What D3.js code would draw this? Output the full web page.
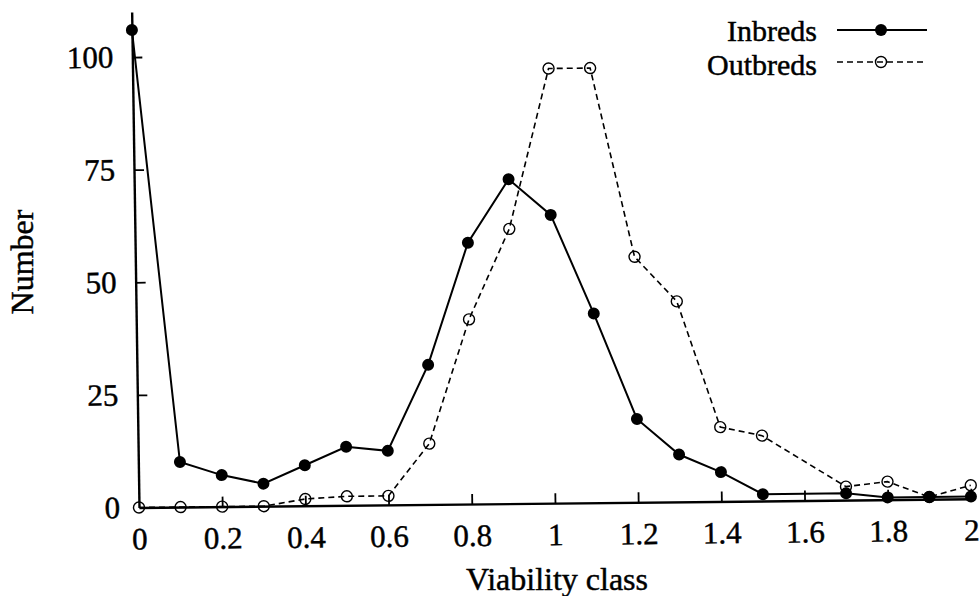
<!DOCTYPE html>
<html>
<head>
<meta charset="utf-8">
<script src="https://cdn.jsdelivr.net/npm/d3@7"></script>
<style>
body{margin:0;background:#fff}
svg text{font-family:"Liberation Serif","Times New Roman",serif;fill:#000;stroke:#000;stroke-width:0.45px}
</style>
</head>
<body>
<div id="chart"></div>
<script>

// viability classes and counts
var inbredClass  = [0,0.1,0.2,0.3,0.4,0.5,0.6,0.7,0.8,0.9,1.0,1.1,1.2,1.3,1.4,1.5,1.7,1.8,1.9,2.0]
var inbredCount  = [106,10,7,5,9,13,12,31,58,72,64,42,18.5,10.5,6.5,1.5,1.5,0.5,0.5,0.5]

var outbredClass = [0,0.1,0.2,0.3,0.4,0.5,0.6,0.7,0.8,0.9,1.0,1.1,1.2,1.3,1.4,1.5,1.7,1.8,1.9,2.0]
var outbredCount = [0,0,0,0,1.5,2,2,13.5,41,61,96.5,96.5,54.5,44.5,16.5,14.5,3,4,0.5,3]

var xTicks = [0,0.2,0.4,0.6,0.8,1,1.2,1.4,1.6,1.8,2]
var xTickLabels = ["0","0.2","0.4","0.6","0.8","1","1.2","1.4","1.6","1.8","2"]
var yTicks = [0,25,50,75,100]

var w = 980, h = 596
var ox = 139, oy = 507.5   // where the axes meet

var svg = d3.select("#chart").append("svg")
	.attr("width", w)
	.attr("height", h)

// the printed page was scanned a little crooked, so turn the plot round its origin
var g = svg.append("g")
	.attr("transform", "translate(" + ox + "," + oy + ") rotate(-0.6) skewX(0.25) translate(" + (-ox) + "," + (-oy) + ")")

var x = d3.scaleLinear().domain([0, 2]).range([ox, 971])
var y = d3.scaleLinear().domain([0, 110]).range([oy, 12])

//axes
var xAxis = d3.axisBottom(x)
	.tickValues(xTicks)
	.tickFormat(function(d, i){ return xTickLabels[i] })
	.tickSizeInner(-10)
	.tickSizeOuter(0)
	.tickPadding(20)

var yAxis = d3.axisLeft(y)
	.tickValues(yTicks)
	.tickSizeInner(-10)
	.tickSizeOuter(0)
	.tickPadding(19)

var gx = g.append("g")
	.attr("transform", "translate(0," + oy + ")")
	.call(xAxis)

var gy = g.append("g")
	.attr("transform", "translate(" + ox + ",0)")
	.call(yAxis)

g.selectAll(".domain").attr("stroke", "#000").attr("stroke-width", 2.4)
g.selectAll(".tick line").attr("stroke", "#000").attr("stroke-width", 1.8)
g.selectAll(".tick text")
	.attr("fill", "#000")
	.style("font-size", "31px")
	.style("font-family", "'Liberation Serif', 'Times New Roman', serif")

// hide the tick sitting on the y axis
gx.selectAll(".tick").filter(function(d){ return d == 0 }).select("line").remove()
gy.selectAll(".tick").filter(function(d){ return d == 0 }).select("line").remove()

var inbred = inbredClass.map(function(c, i){ return {c: c, v: inbredCount[i]} })
var outbred = outbredClass.map(function(c, i){ return {c: c, v: outbredCount[i]} })

var line = d3.line()
	.x(function(d){ return x(d.c) })
	.y(function(d){ return y(d.v) })

//OUTBREDS - dashed, open circles
g.append("path")
	.datum(outbred)
	.attr("d", line)
	.attr("fill", "none")
	.attr("stroke", "#000")
	.attr("stroke-width", 1.6)
	.attr("stroke-dasharray", "6,4")

g.selectAll("circle.out")
	.data(outbred)
	.enter().append("circle")
	.attr("class", "out")
	.attr("cx", function(d){ return x(d.c) })
	.attr("cy", function(d){ return y(d.v) })
	.attr("r", 5.5)
	.attr("fill", "none")
	.attr("stroke", "#000")
	.attr("stroke-width", 1.4)

//INBREDS - solid, filled dots
g.append("path")
	.datum(inbred)
	.attr("d", line)
	.attr("fill", "none")
	.attr("stroke", "#000")
	.attr("stroke-width", 2)

g.selectAll("circle.in")
	.data(inbred)
	.enter().append("circle")
	.attr("class", "in")
	.attr("cx", function(d){ return x(d.c) })
	.attr("cy", function(d){ return y(d.v) })
	.attr("r", 6)
	.attr("fill", "#000")

// axis titles
svg.append("text")
	.attr("transform", "translate(33,262) rotate(-90)")
	.attr("text-anchor", "middle")
	.style("font-size", "32px")
	.text("Number")

svg.append("text")
	.attr("x", 557)
	.attr("y", 590)
	.attr("text-anchor", "middle")
	.style("font-size", "32px")
	.text("Viability class")

// legend
var legend = svg.append("g")

legend.append("text")
	.attr("x", 817).attr("y", 41)
	.attr("text-anchor", "end")
	.style("font-size", "30px")
	.text("Inbreds")

legend.append("line")
	.attr("x1", 837).attr("x2", 927)
	.attr("y1", 30).attr("y2", 30)
	.attr("stroke", "#000").attr("stroke-width", 2)

legend.append("circle")
	.attr("cx", 881).attr("cy", 30).attr("r", 6)
	.attr("fill", "#000")

legend.append("text")
	.attr("x", 817).attr("y", 75)
	.attr("text-anchor", "end")
	.style("font-size", "30px")
	.text("Outbreds")

legend.append("line")
	.attr("x1", 837).attr("x2", 927)
	.attr("y1", 62).attr("y2", 62)
	.attr("stroke", "#000").attr("stroke-width", 1.6)
	.attr("stroke-dasharray", "6,4")

legend.append("circle")
	.attr("cx", 881).attr("cy", 62).attr("r", 5.5)
	.attr("fill", "none")
	.attr("stroke", "#000").attr("stroke-width", 1.4)

</script>
</body>
</html>
